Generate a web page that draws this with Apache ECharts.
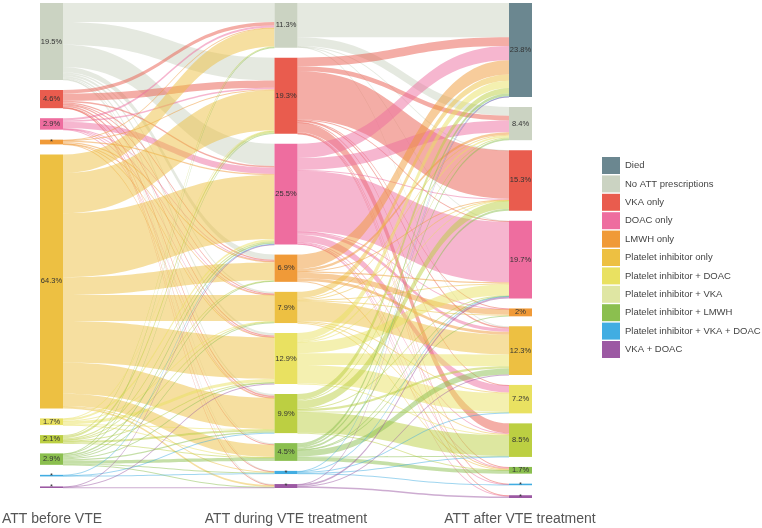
<!DOCTYPE html>
<html>
<head>
<meta charset="utf-8">
<script src="https://cdn.jsdelivr.net/npm/echarts@6/dist/echarts.min.js"></script>
<style>
html,body{margin:0;padding:0;background:#fff;}
#chart{width:762px;height:528px;}
</style>
</head>
<body>
<div id="chart"></div>
<script>
const categories = ['Died', 'No ATT prescriptions', 'VKA only', 'DOAC only', 'LMWH only',
  'Platelet inhibitor only', 'Platelet inhibitor + DOAC', 'Platelet inhibitor + VKA',
  'Platelet inhibitor + LMWH', 'Platelet inhibitor + VKA + DOAC', 'VKA + DOAC'];
const stages = ['ATT before VTE', 'ATT during VTE treatment', 'ATT after VTE treatment'];

// % of patients, before -> during (rows and columns = categories without 'Died')
const beforeToDuring = [
  [4.8, 5.8, 5.6, 1.3, 0.4, 0.6, 0.4, 0.3, 0.1, 0.2],
  [0.9, 1.8, 0.4, 0.3, 0.2, 0.3, 0.4, 0.1, 0.1, 0.1],
  [0.5, 0.4, 1.6, 0.1, 0.1, 0.1, 0.1, 0, 0, 0],
  [0.1, 0.2, 0.3, 0.3, 0.1, 0.1, 0.1, 0, 0, 0],
  [4.7, 10.2, 16.2, 4.5, 6.6, 10.5, 7.9, 3.1, 0.2, 0.4],
  [0, 0.1, 0.5, 0, 0.1, 0.8, 0.1, 0.1, 0, 0],
  [0.2, 0.6, 0.3, 0.1, 0.2, 0.1, 0.5, 0.1, 0, 0],
  [0.1, 0.2, 0.4, 0.3, 0.2, 0.3, 0.3, 0.8, 0.2, 0.1],
  [0, 0, 0.1, 0, 0, 0, 0.1, 0, 0.2, 0],
  [0, 0, 0.1, 0, 0, 0.1, 0, 0, 0, 0.2]
];
// during -> after (rows = categories without 'Died', columns = all categories)
const duringToAfter = [
  [8.7, 2.2, 0.1, 0.1, 0, 0.2, 0, 0, 0, 0, 0],
  [2.2, 1.2, 12.2, 0.2, 0.1, 0.4, 0.1, 2.5, 0.2, 0.1, 0.1],
  [3.6, 3.0, 0.2, 15.3, 0.1, 0.8, 1.8, 0.2, 0.2, 0.1, 0.2],
  [3.6, 0.6, 0.1, 0.3, 1.4, 0.7, 0, 0, 0.2, 0, 0],
  [1.6, 0.3, 0.1, 0.2, 0.2, 5.0, 0.2, 0.2, 0.1, 0, 0],
  [1.8, 0.4, 0.1, 2.8, 0, 3.0, 4.7, 0.1, 0, 0, 0],
  [1.4, 0.3, 2.0, 0.1, 0, 0.6, 0.2, 5.2, 0.1, 0, 0],
  [0.7, 0.4, 0.5, 0.1, 0.2, 1.5, 0, 0.2, 0.9, 0, 0],
  [0.1, 0, 0, 0.2, 0, 0, 0.2, 0.1, 0, 0.2, 0],
  [0.1, 0, 0, 0.4, 0, 0.1, 0, 0, 0, 0, 0.4]
];

const palette = ['#6b8790', '#cbd3c2', '#e95c4e', '#ee6d9f', '#f09a38', '#edc042',
  '#e9e161', '#bccf42', '#8bbf4f', '#41ade2', '#9c59a3'];
const legendColors = palette.slice();
legendColors[7] = '#dfe6a3';

const sum = a => a.reduce((s, v) => s + v, 0);
const colSum = (m, j) => sum(m.map(r => r[j]));
const nodeId = (stage, ci) => stage + '|' + categories[ci];

const nodes = [];
const links = [];
for (let ci = 1; ci < categories.length; ci++) {
  nodes.push({name: nodeId(0, ci), depth: 0, value: sum(beforeToDuring[ci - 1]), itemStyle: {color: palette[ci]}});
}
for (let ci = 1; ci < categories.length; ci++) {
  nodes.push({name: nodeId(1, ci), depth: 1, value: colSum(beforeToDuring, ci - 1), itemStyle: {color: palette[ci]}});
}
for (let ci = 0; ci < categories.length; ci++) {
  nodes.push({name: nodeId(2, ci), depth: 2, value: colSum(duringToAfter, ci), itemStyle: {color: palette[ci]}});
}
beforeToDuring.forEach((row, i) => row.forEach((v, j) => {
  if (v > 0) links.push({source: nodeId(0, i + 1), target: nodeId(1, j + 1), value: v});
}));
duringToAfter.forEach((row, i) => row.forEach((v, j) => {
  if (v > 0) links.push({source: nodeId(1, i + 1), target: nodeId(2, j), value: v});
}));

const chart = echarts.init(document.getElementById('chart'));
const font = '"Liberation Sans", Arial, sans-serif';
const stageX = [52, 286, 520];

const option = {
  animation: false,
  textStyle: {fontFamily: font},
  title: stages.map((t, i) => ({
    text: t,
    left: stageX[i],
    top: 512,
    padding: 0,
    textAlign: 'center',
    textStyle: {fontSize: 14, fontWeight: 'normal', color: '#555', fontFamily: font}
  })),
  legend: {
    orient: 'vertical',
    left: 602,
    top: 157,
    padding: 0,
    itemWidth: 18,
    itemHeight: 17,
    itemGap: 1.4,
    icon: 'rect',
    selectedMode: false,
    textStyle: {fontSize: 9.5, color: '#444', fontFamily: font},
    data: categories.map((n, i) => ({name: n, itemStyle: {color: legendColors[i]}}))
  },
  series: [
    {
      type: 'sankey',
      left: 40,
      right: 230,
      top: 3,
      bottom: 30,
      nodeWidth: 23,
      nodeGap: 10,
      layoutIterations: 0,
      draggable: false,
      emphasis: {disabled: true},
      data: nodes,
      links: links,
      itemStyle: {borderWidth: 0},
      label: {
        position: 'inside',
        fontSize: 7.5,
        color: '#333',
        fontFamily: font,
        textBorderWidth: 0,
        formatter: p => p.value >= 1.5 ? (+p.value.toFixed(1)) + '%' : '*'
      },
      lineStyle: {color: 'source', opacity: 0.5, curveness: 0.5}
    },
    {
      type: 'pie',
      radius: [0, 0],
      silent: true,
      stillShowZeroSum: false,
      label: {show: false},
      labelLine: {show: false},
      data: categories.map((n, i) => ({name: n, value: 0, itemStyle: {color: palette[i]}}))
    }
  ]
};
chart.setOption(option);
</script>
</body>
</html>
